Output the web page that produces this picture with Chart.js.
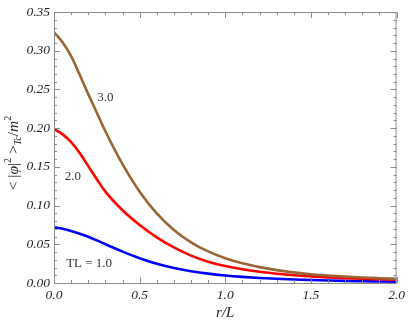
<!DOCTYPE html>
<html>
<head>
<meta charset="utf-8">
<script src="https://cdn.jsdelivr.net/npm/chart.js@4/dist/chart.umd.min.js"></script>
<style>
  html, body { margin: 0; padding: 0; background: #fff; }
  #wrap { width: 409px; height: 327px; }
</style>
</head>
<body>
<div id="wrap"><canvas id="grafico"></canvas></div>
<script>
// r/L samples
const raggio = [0, 0.05, 0.1, 0.15, 0.2, 0.25, 0.3, 0.4, 0.5, 0.6, 0.7, 0.8, 0.9, 1.0,
                1.1, 1.2, 1.3, 1.4, 1.5, 1.6, 1.7, 1.8, 1.9, 2.0];
// <|phi|^2>_Tc / m^2 for each TL
const phiTL1 = [0.072, 0.0700, 0.0672, 0.0637, 0.0597, 0.0551, 0.050, 0.0405, 0.032, 0.0248, 0.0194,
                0.0153, 0.0121, 0.0097, 0.0079, 0.0065, 0.0054, 0.0045, 0.0038, 0.0032, 0.0027,
                0.0023, 0.0020, 0.0017];
const phiTL2 = [0.199, 0.192, 0.182, 0.168, 0.151, 0.134, 0.118, 0.094, 0.075, 0.059, 0.0459,
                0.0354, 0.0276, 0.0219, 0.0178, 0.0146, 0.0120, 0.0101, 0.0085, 0.0073, 0.0062,
                0.0054, 0.0048, 0.0042];
const phiTL3 = [0.324, 0.311, 0.293, 0.269, 0.244, 0.220, 0.196, 0.1535, 0.118, 0.090, 0.0686,
                0.0526, 0.0408, 0.0320, 0.0254, 0.0205, 0.0166, 0.0137, 0.0114, 0.0096, 0.0083,
                0.0071, 0.0062, 0.0054];
const etichette = ['TL = 1.0', '2.0', '3.0'];
// where each curve label sits, in data units
const posEtichette = [[0.205, 0.0245], [0.11, 0.138], [0.30, 0.240]];

const serif = '"Liberation Serif", "Times New Roman", serif';

function punti(ys) {
  return ys.map((y, i) => ({ x: raggio[i], y: y }));
}

// frame on four sides with inward ticks, Mathematica style
const cornice = {
  id: 'cornice',
  afterDatasetsDraw(chart) {
    const { ctx, chartArea: a, scales } = chart;
    ctx.save();
    ctx.strokeStyle = '#8c8c8c';
    ctx.lineWidth = 1;
    ctx.strokeRect(a.left + 0.5, a.top + 0.5, a.right - a.left - 1, a.bottom - a.top);
    ctx.beginPath();
    for (let i = 0; i <= 20; i++) {
      const v = i * 0.1;
      const px = Math.round(scales.x.getPixelForValue(v)) + 0.5;
      const len = i % 5 === 0 ? 6 : 3;
      ctx.moveTo(px, a.bottom); ctx.lineTo(px, a.bottom - len);
      ctx.moveTo(px, a.top); ctx.lineTo(px, a.top + len);
    }
    for (let i = 0; i <= 35; i++) {
      const v = i * 0.01;
      const py = Math.round(scales.y.getPixelForValue(v)) + 0.5;
      const len = i % 5 === 0 ? 6 : 3;
      ctx.moveTo(a.left, py); ctx.lineTo(a.left + len, py);
      ctx.moveTo(a.right, py); ctx.lineTo(a.right - len, py);
    }
    ctx.stroke();

    // curve labels
    ctx.fillStyle = '#333';
    ctx.font = '13px ' + serif;
    ctx.textAlign = 'center';
    ctx.textBaseline = 'middle';
    etichette.forEach((t, i) => {
      ctx.fillText(t, scales.x.getPixelForValue(posEtichette[i][0]),
                      scales.y.getPixelForValue(posEtichette[i][1]));
    });

    // y axis title with sub/superscripts
    const parti = [
      { t: '< |', it: false, s: 15.5, dy: 0 },
      { t: 'φ', it: true, s: 15.5, dy: 0 },
      { t: '|', it: false, s: 15.5, dy: 0 },
      { t: '2', it: false, s: 10, dy: -6 },
      { t: ' >', it: false, s: 15.5, dy: 0 },
      { t: 'Tc', it: true, s: 10, dy: 4 },
      { t: '/', it: false, s: 15.5, dy: 0 },
      { t: 'm', it: true, s: 15.5, dy: 0 },
      { t: '2', it: false, s: 10, dy: -6 }
    ];
    let tot = 0;
    parti.forEach(p => {
      ctx.font = (p.it ? 'italic ' : '') + p.s + 'px ' + serif;
      p.w = ctx.measureText(p.t).width;
      tot += p.w;
    });
    ctx.translate(14, 153);
    ctx.rotate(-Math.PI / 2);
    ctx.textAlign = 'left';
    ctx.fillStyle = '#222';
    let x = -tot / 2;
    parti.forEach(p => {
      ctx.font = (p.it ? 'italic ' : '') + p.s + 'px ' + serif;
      ctx.fillText(p.t, x, p.dy);
      x += p.w;
    });
    ctx.restore();
  }
};

const ctx = document.getElementById('grafico').getContext('2d');
new Chart(ctx, {
  type: 'line',
  data: {
    datasets: [
      { label: etichette[0], data: punti(phiTL1), borderColor: '#0000ff', order: 2 },
      { label: etichette[1], data: punti(phiTL2), borderColor: '#ff0000', order: 1 },
      { label: etichette[2], data: punti(phiTL3), borderColor: '#996633', order: 0 }
    ]
  },
  options: {
    responsive: true,
    maintainAspectRatio: false,
    animation: false,
    layout: { padding: { top: 8, right: 10, left: 0, bottom: 5 } },
    elements: {
      line: { borderWidth: 2.6, cubicInterpolationMode: 'monotone', fill: false },
      point: { radius: 0 }
    },
    plugins: {
      legend: { display: false },
      tooltip: { enabled: false }
    },
    scales: {
      x: {
        type: 'linear',
        min: 0, max: 2,
        grid: { display: false, drawTicks: false },
        border: { display: false },
        ticks: {
          stepSize: 0.5,
          padding: 4,
          color: '#222',
          font: { family: serif, size: 13.5, style: 'italic' },
          callback: v => v.toFixed(1)
        },
        title: {
          display: true,
          text: 'r/L',
          color: '#222',
          font: { family: serif, size: 15, style: 'italic' },
          padding: { top: 3, bottom: 0 }
        },
        afterFit: s => { s.height = 39; }
      },
      y: {
        min: 0, max: 0.35,
        grid: { display: false, drawTicks: false },
        border: { display: false },
        ticks: {
          stepSize: 0.05,
          padding: 4,
          color: '#222',
          font: { family: serif, size: 13.5, style: 'italic' },
          callback: v => v.toFixed(2)
        },
        afterFit: s => { s.width = 54; }
      }
    }
  },
  plugins: [cornice]
});
</script>
</body>
</html>
